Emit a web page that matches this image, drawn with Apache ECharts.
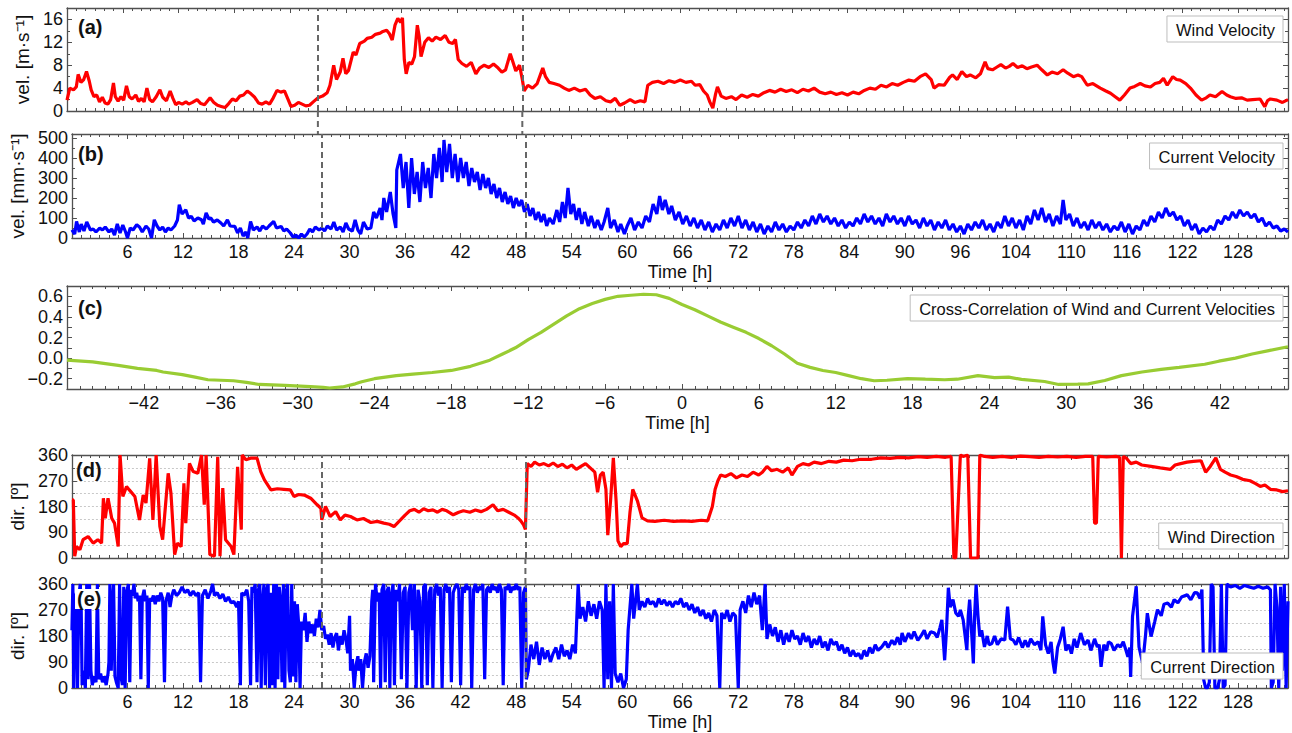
<!DOCTYPE html>
<html>
<head>
<meta charset="utf-8">
<script src="https://cdn.jsdelivr.net/npm/echarts@6/dist/echarts.min.js"></script>
<style>
html,body{margin:0;padding:0;background:#fff;}
#chart{width:1292px;height:733px;}
</style>
</head>
<body>
<div id="chart"></div>
<script>
// ---------------- DATA ----------------
// time axis tick values and their printed labels (as printed in the original figure)
const X_TICK_VALUES = [6,12,18,24,30,36,42,48,54,60,66,72,78,84,90,96,102,108,114,120,126];
const X_TICK_LABELS = ['6','12','18','24','30','36','42','48','54','60','66','72','78','84','90','96','104','110','116','122','128'];
const EVENT_TIMES = [27, 49];

// (a) wind velocity [m/s] : [time h, value]
const WIND_VEL = [[0,1.9],[0.3,4],[0.7,3.7],[1.0,4.2],[1.2,6.4],[1.5,5],[1.8,5.5],[2.1,6.9],[2.4,5.2],[2.6,3.7],[2.9,2.5],[3.2,2.8],[3.5,1.6],[3.8,2.4],[4.1,1.4],[4.4,1.2],[4.7,2],[5.0,4.9],[5.2,2.5],[5.5,1.7],[5.8,2.5],[6.1,1.9],[6.4,4.4],[6.7,2.5],[7.0,2.1],[7.4,2.8],[7.7,1.7],[8.0,2.2],[8.3,1.6],[8.6,4.0],[8.9,2.0],[9.2,1.6],[9.6,2.5],[10.0,3.7],[10.3,2.4],[10.7,1.8],[11.1,3.5],[11.4,2.2],[11.7,1.1],[12.0,1.5],[12.4,1.2],[12.8,1.6],[13.1,1.2],[13.5,1.5],[14.0,2.0],[14.4,1.3],[14.8,1.1],[15.4,2.3],[15.8,1.5],[16.2,1.0],[16.6,0.8],[17.0,0.6],[17.4,1.3],[17.8,2.1],[18.2,1.8],[18.6,2.6],[19.0,2.8],[19.4,3.5],[19.8,3.0],[20.2,2.4],[20.6,1.4],[21.0,1.2],[21.4,1.6],[21.8,1.2],[22.2,2.3],[22.6,3.6],[23.0,3.3],[23.4,3.5],[23.8,2.0],[24.1,0.8],[24.5,1.0],[24.9,1.5],[25.3,1.2],[25.7,0.9],[26.1,1.0],[26.5,1.6],[27.0,2.3],[27.5,2.6],[28.0,3.2],[28.3,4.5],[28.7,8.0],[29.0,5.5],[29.4,6.8],[29.7,9.2],[30.0,6.5],[30.3,7.1],[30.8,10.3],[31.1,9.8],[31.5,11.8],[32.0,12.2],[32.3,12.7],[32.8,12.9],[33.2,13.4],[33.7,13.6],[34.0,13.9],[34.4,14.1],[34.7,13.5],[35.0,12.4],[35.3,15.0],[35.6,16.2],[35.9,15.5],[36.1,16.3],[36.3,9],[36.5,6.5],[36.8,8.5],[37.1,8.2],[37.4,9.5],[37.7,15],[37.9,13],[38.1,9.5],[38.5,12],[38.9,12.8],[39.3,12.2],[39.7,12.9],[40.2,12.5],[40.7,13.2],[41.1,12.0],[41.5,11.8],[41.8,12.5],[42.1,9],[42.5,8.3],[43.0,7.8],[43.5,8.5],[44.0,6.5],[44.4,7.5],[44.9,8.0],[45.4,7.6],[45.9,8.2],[46.4,7.5],[46.8,6.8],[47.2,7.2],[47.7,10],[48.0,8.5],[48.3,7.0],[48.7,8.0],[49.0,5.5],[49.2,3.5],[49.6,4.5],[50.1,4.0],[50.6,4.8],[51.2,7.5],[51.5,6.0],[51.9,5.0],[52.4,4.8],[53.0,4.5],[53.5,4.0],[54.0,3.6],[54.6,4.0],[55.2,3.5],[55.8,3.8],[56.3,2.8],[56.8,2.2],[57.4,2.5],[58.0,1.8],[58.5,1.6],[59.0,2.2],[59.5,1.0],[60.0,1.4],[60.6,2.0],[61.1,1.5],[61.7,1.8],[62.2,1.6],[62.5,4.5],[63.0,5.0],[63.6,5.2],[64.2,4.8],[64.8,5.3],[65.4,5.0],[66.0,5.4],[66.6,5.0],[67.2,5.2],[67.6,4.5],[68.1,4.6],[68.5,3.5],[68.9,2.8],[69.2,1.5],[69.5,0.5],[69.8,3.0],[70.0,4.2],[70.4,2.6],[70.9,2.2],[71.5,2.5],[72.0,2.0],[72.6,2.8],[73.2,2.4],[73.8,2.9],[74.4,2.6],[75.0,3.2],[75.6,3.6],[76.2,3.3],[76.8,3.8],[77.4,3.4],[78.0,3.7],[78.6,3.2],[79.2,3.8],[79.8,3.5],[80.4,4.0],[81.0,3.3],[81.6,3.0],[82.2,3.3],[82.8,2.9],[83.4,3.2],[84.0,2.8],[84.6,3.3],[85.2,3.0],[85.8,3.6],[86.4,4.0],[87.0,3.8],[87.6,4.5],[88.2,4.2],[88.8,4.8],[89.4,4.5],[90.0,5.0],[90.6,5.4],[91.2,5.2],[91.8,6.0],[92.4,6.5],[93.0,5.5],[93.3,4.0],[93.8,4.6],[94.4,4.5],[95.0,5.9],[95.3,6.3],[95.8,5.5],[96.3,6.9],[96.8,6.0],[97.2,6.3],[97.8,5.8],[98.3,6.5],[98.8,8.6],[99.1,7.4],[99.6,7.2],[100.0,7.6],[100.5,8.1],[101.0,7.5],[101.4,7.8],[101.8,8.3],[102.3,7.6],[102.8,7.9],[103.3,7.4],[103.8,7.7],[104.4,8.0],[104.9,7.2],[105.5,6.3],[106.0,6.8],[106.6,6.5],[107.2,7.2],[107.7,6.6],[108.3,6.0],[108.8,6.3],[109.2,6.0],[109.8,4.5],[110.4,4.8],[111.2,4.0],[111.8,3.5],[112.3,3.1],[112.8,2.5],[113.3,1.9],[113.8,2.8],[114.4,4.0],[114.9,4.3],[115.5,4.8],[116.0,4.4],[116.6,4.2],[117.1,4.8],[117.6,5.0],[118.0,5.7],[118.4,4.5],[119.0,6.0],[119.4,5.5],[119.8,5.4],[120.4,4.8],[120.9,4.0],[121.5,2.8],[122.1,1.9],[122.6,2.3],[123.0,2.8],[123.6,2.5],[124.3,3.4],[124.8,2.8],[125.2,2.5],[125.8,2.2],[126.4,2.3],[127.0,1.9],[127.6,2.0],[128.4,2.1],[128.9,0.75],[129.2,1.8],[129.5,2.1],[130.2,1.9],[130.8,1.5],[131.4,2.0]];

// (b) current velocity [mm/s]
const CUR_VEL = [[0,41],[0.3,20],[0.5,83],[0.8,30],[1.0,70],[1.3,35],[1.6,80],[2.0,40],[2.3,45],[2.6,30],[3.0,50],[3.3,40],[3.6,55],[4.0,30],[4.3,45],[4.6,15],[4.9,70],[5.2,25],[5.5,65],[5.8,30],[6.0,0],[6.3,50],[6.6,40],[7.0,66],[7.3,55],[7.6,30],[8.0,60],[8.3,45],[8.6,0],[8.9,91],[9.2,60],[9.5,40],[9.8,55],[10.1,30],[10.4,50],[10.7,40],[11.1,60],[11.4,90],[11.6,166],[11.9,120],[12.3,141],[12.6,100],[12.9,108],[13.2,85],[13.6,100],[14.0,91],[14.2,70],[14.5,126],[14.8,95],[15.0,100],[15.3,80],[15.7,90],[16.1,75],[16.4,60],[16.8,91],[17.1,60],[17.6,58],[17.9,25],[18.2,50],[18.5,10],[18.8,30],[19.0,0],[19.3,83],[19.6,40],[20.0,55],[20.3,35],[20.6,60],[21.0,45],[21.3,60],[21.8,83],[22.1,50],[22.6,58],[22.9,35],[23.2,45],[23.6,25],[23.9,5],[24.2,15],[24.5,0],[24.8,20],[25.1,5],[25.4,20],[25.7,45],[26.0,30],[26.3,55],[26.7,40],[27.0,50],[27.3,35],[27.6,60],[28.0,45],[28.3,80],[28.6,40],[29.0,55],[29.3,30],[29.6,75],[29.9,45],[30.3,35],[30.6,91],[30.9,40],[31.2,20],[31.5,80],[31.9,45],[32.3,50],[32.6,130],[32.9,100],[33.3,150],[33.5,90],[33.7,200],[34.0,130],[34.4,230],[34.7,120],[35.0,50],[35.1,340],[35.5,420],[35.8,250],[36.1,380],[36.4,150],[36.7,400],[37.0,220],[37.3,330],[37.6,180],[37.9,380],[38.2,250],[38.5,350],[38.8,200],[39.1,420],[39.4,300],[39.7,450],[40.0,280],[40.2,490],[40.5,330],[40.8,470],[41.1,300],[41.4,420],[41.7,280],[42.0,400],[42.3,300],[42.6,380],[42.9,260],[43.2,350],[43.5,280],[43.8,330],[44.1,240],[44.4,320],[44.7,250],[45.0,300],[45.3,220],[45.6,270],[45.9,200],[46.2,250],[46.5,180],[46.8,230],[47.1,170],[47.4,210],[47.7,150],[48.0,200],[48.3,160],[48.6,190],[48.9,130],[49.2,170],[49.5,110],[49.8,150],[50.1,90],[50.4,130],[50.7,80],[51.0,120],[51.3,60],[51.6,100],[52.0,70],[52.4,140],[52.7,80],[53.0,180],[53.3,100],[53.6,250],[53.9,120],[54.2,170],[54.5,90],[54.8,150],[55.1,70],[55.4,130],[55.8,60],[56.1,110],[56.5,50],[56.8,90],[57.2,40],[57.5,80],[57.9,150],[58.2,50],[58.6,90],[59.0,30],[59.3,70],[59.7,20],[60.0,60],[60.4,100],[60.8,40],[61.2,80],[61.6,50],[62.0,110],[62.4,80],[62.8,170],[63.2,120],[63.5,210],[63.8,140],[64.1,190],[64.5,120],[64.8,160],[65.2,90],[65.6,130],[66.0,70],[66.4,110],[66.8,60],[67.2,100],[67.6,50],[68.0,90],[68.4,40],[68.8,80],[69.2,30],[69.6,70],[70.0,40],[70.4,90],[70.8,50],[71.2,100],[71.6,60],[72.0,110],[72.4,50],[72.8,90],[73.2,40],[73.6,80],[74.0,30],[74.4,70],[74.8,20],[75.2,60],[75.6,30],[76.0,80],[76.4,40],[76.8,70],[77.2,30],[77.6,60],[78.0,40],[78.4,80],[78.8,50],[79.2,90],[79.6,60],[80.0,110],[80.4,70],[80.8,120],[81.2,80],[81.6,110],[82.0,70],[82.4,100],[82.8,60],[83.2,90],[83.6,50],[84.0,80],[84.4,60],[84.8,100],[85.2,70],[85.6,120],[86.0,80],[86.4,110],[86.8,70],[87.2,100],[87.6,60],[88.0,120],[88.4,80],[88.8,110],[89.2,70],[89.6,100],[90.0,60],[90.4,110],[90.8,70],[91.2,90],[91.6,50],[92.0,100],[92.4,60],[92.8,90],[93.2,40],[93.6,80],[94.0,50],[94.4,90],[94.8,40],[95.2,70],[95.6,30],[96.0,60],[96.4,20],[96.8,70],[97.2,40],[97.6,80],[98.0,50],[98.4,90],[98.8,40],[99.2,70],[99.6,30],[100.0,80],[100.4,50],[100.8,110],[101.2,60],[101.6,100],[102.0,50],[102.4,90],[102.8,40],[103.2,110],[103.6,70],[104.0,140],[104.4,90],[104.8,150],[105.2,80],[105.6,120],[106.0,60],[106.4,110],[106.8,70],[107.1,190],[107.4,90],[107.8,120],[108.2,60],[108.6,100],[109.0,50],[109.4,80],[109.8,40],[110.2,90],[110.6,50],[111.0,80],[111.4,40],[111.8,70],[112.2,30],[112.6,60],[113.0,40],[113.4,80],[113.8,30],[114.2,70],[114.6,20],[115.0,60],[115.4,40],[115.8,90],[116.2,60],[116.6,110],[117.0,80],[117.4,130],[117.8,100],[118.2,150],[118.6,110],[119.0,130],[119.4,90],[119.8,110],[120.2,60],[120.6,90],[121.0,40],[121.4,70],[121.8,20],[122.2,50],[122.6,30],[123.0,60],[123.4,40],[123.8,90],[124.2,70],[124.6,110],[125.0,90],[125.4,130],[125.8,100],[126.2,140],[126.6,110],[127.0,130],[127.4,100],[127.8,120],[128.2,80],[128.6,100],[129.0,60],[129.4,80],[129.8,50],[130.2,60],[130.6,35],[131.0,45],[131.4,30]];

// (c) cross-correlation : [lag h, r]
const CROSS_CORR = [[-48,-0.02],[-46,-0.036],[-44,-0.07],[-43,-0.09],[-42.5,-0.10],[-41,-0.12],[-40.5,-0.135],[-39,-0.16],[-38,-0.185],[-37,-0.21],[-35,-0.22],[-34,-0.235],[-33,-0.256],[-31,-0.265],[-29,-0.276],[-28,-0.285],[-27.5,-0.29],[-26.5,-0.28],[-25.5,-0.25],[-25,-0.23],[-24,-0.2],[-22.3,-0.17],[-21,-0.155],[-19.5,-0.14],[-18,-0.12],[-16.5,-0.08],[-15,-0.02],[-14,0.04],[-13,0.1],[-12,0.18],[-11,0.25],[-10,0.33],[-9,0.41],[-8,0.48],[-7,0.53],[-6,0.57],[-5,0.6],[-4,0.61],[-3,0.62],[-2,0.615],[-1,0.58],[0,0.52],[1,0.47],[2,0.41],[3,0.35],[4,0.3],[5,0.25],[6,0.19],[7,0.12],[8,0.04],[9,-0.05],[10,-0.09],[11,-0.12],[12,-0.14],[13,-0.17],[14,-0.2],[15,-0.22],[16,-0.215],[17.6,-0.2],[19,-0.205],[20.5,-0.21],[21.5,-0.205],[23.1,-0.17],[24.4,-0.19],[25.5,-0.185],[26.5,-0.207],[28.3,-0.227],[29.4,-0.256],[30.9,-0.253],[31.7,-0.25],[33,-0.217],[34.3,-0.17],[35.9,-0.135],[37.4,-0.11],[38.8,-0.09],[40.8,-0.06],[41.9,-0.03],[43.2,0.0],[44.5,0.04],[45.8,0.073],[47.3,0.11]];

// (d) wind direction [deg]
const WIND_DIR = [[0,203],[0.15,203],[0.3,6],[0.5,40],[0.86,29],[1.2,64],[1.75,75],[2.3,52],[2.8,64],[3.2,52],[3.4,209],[3.6,139],[3.9,209],[4.3,139],[4.6,122],[5.0,40],[5.2,360],[5.5,215],[5.9,250],[6.2,238],[6.8,215],[7.3,133],[7.7,220],[8.0,192],[8.4,348],[8.75,133],[9.1,360],[9.5,110],[9.8,64],[10.4,296],[10.7,226],[11.1,12],[11.4,52],[11.8,40],[12.1,261],[12.3,122],[12.7,331],[13.1,302],[13.6,296],[14.0,360],[14.3,186],[14.5,360],[14.9,12],[15.4,6],[15.75,354],[16.0,6],[16.3,244],[16.6,64],[17.2,40],[17.5,12],[17.9,319],[18.3,99],[18.4,360],[18.8,343],[19.3,349],[20.0,349],[20.4,302],[20.8,273],[21.5,238],[22.2,242],[22.9,240],[23.6,238],[24.0,215],[24.5,222],[25.1,220],[25.8,209],[26.5,186],[26.9,174],[27.0,133],[27.4,180],[27.9,145],[28.5,162],[29.0,133],[29.5,150],[30.1,145],[30.8,133],[31.5,138],[32.3,124],[33.0,128],[33.7,122],[34.3,118],[34.8,110],[35.5,133],[36.0,150],[36.5,165],[37.0,170],[37.5,160],[38.0,172],[38.5,165],[39.0,168],[39.5,160],[40.0,170],[40.5,165],[41.2,151],[41.8,160],[42.3,165],[43.0,160],[43.6,168],[44.2,162],[44.8,170],[45.5,186],[46.0,165],[46.6,170],[47.2,160],[47.8,150],[48.2,140],[48.5,130],[48.8,116],[49.0,100],[49.2,330],[49.6,320],[50.0,335],[50.5,325],[51.0,330],[51.5,322],[52.0,332],[52.5,320],[53.0,328],[53.5,315],[54.0,325],[54.5,310],[55.0,320],[55.5,330],[56.0,315],[56.5,300],[56.8,230],[57.1,290],[57.4,300],[57.7,240],[57.9,80],[58.2,200],[58.5,350],[58.8,200],[59.0,60],[59.3,40],[59.6,50],[60.0,50],[60.3,160],[60.6,240],[61.1,200],[61.6,140],[62.2,130],[63.0,128],[64.0,132],[65.0,128],[66.0,130],[67.0,128],[68.0,132],[68.7,130],[69.2,180],[69.5,240],[69.8,270],[70.1,290],[70.6,285],[71.2,295],[71.8,280],[72.4,290],[73.0,285],[73.6,300],[74.2,290],[74.6,300],[75.1,320],[75.6,305],[76.2,310],[76.8,300],[77.4,315],[77.8,290],[78.4,320],[79.0,330],[79.6,325],[80.2,335],[81.0,330],[81.8,338],[82.6,335],[83.4,342],[84.3,340],[85.2,345],[86.4,345],[87.4,350],[88.4,348],[89.4,352],[90.4,350],[91.4,354],[92.4,352],[93.4,355],[94.4,352],[95.0,355],[95.3,0],[95.5,0],[96.0,360],[96.3,355],[96.8,360],[97.1,0],[97.9,0],[98.1,360],[98.6,355],[99.5,352],[100.5,355],[101.5,352],[102.5,356],[103.5,354],[104.5,352],[105.5,355],[106.5,353],[107.5,355],[108.5,352],[109.5,355],[110.3,355],[110.5,122],[110.7,122],[110.9,355],[111.8,353],[112.8,355],[113.2,352],[113.4,0],[113.6,355],[113.9,350],[114.4,330],[115.0,335],[115.6,325],[116.6,320],[117.6,315],[118.7,310],[119.2,325],[119.8,330],[120.5,335],[121.2,338],[122.0,340],[122.5,300],[123.0,320],[123.6,350],[124.1,310],[124.6,300],[125.2,290],[125.8,285],[126.5,275],[127.3,270],[127.9,260],[128.4,250],[128.9,255],[129.5,240],[130.2,238],[130.8,232],[131.4,235]];

// (e) current direction [deg]
const CUR_DIR = [[0,200],[0.1,360],[0.2,0],[0.35,310],[0.5,330],[0.6,0],[0.75,320],[0.9,360],[1.0,280],[1.1,10],[1.3,60],[1.45,0],[1.6,360],[1.75,30],[1.9,360],[2.05,60],[2.2,10],[2.4,40],[2.6,20],[2.75,360],[2.9,30],[3.1,50],[3.3,20],[3.5,40],[3.7,10],[3.9,50],[4.0,90],[4.1,360],[4.25,60],[4.4,300],[4.5,360],[4.65,40],[4.8,20],[5.0,0],[5.15,360],[5.3,40],[5.45,10],[5.6,350],[5.75,0],[5.9,330],[6.1,360],[6.25,20],[6.4,340],[6.55,320],[6.7,360],[6.85,310],[7.0,330],[7.15,300],[7.3,320],[7.45,30],[7.6,310],[7.8,340],[7.95,300],[8.1,320],[8.25,0],[8.4,310],[8.6,300],[8.8,320],[9.0,290],[9.2,320],[9.4,300],[9.6,330],[9.8,310],[10.0,20],[10.15,300],[10.4,330],[10.6,280],[10.8,320],[11.0,340],[11.3,320],[11.6,330],[11.9,350],[12.2,330],[12.5,340],[12.8,320],[13.1,335],[13.4,320],[13.7,330],[13.9,20],[14.1,320],[14.4,340],[14.7,310],[15.0,335],[15.2,360],[15.4,320],[15.7,330],[16.0,310],[16.3,325],[16.6,300],[16.9,315],[17.2,295],[17.5,300],[17.8,280],[18.0,300],[18.2,10],[18.35,330],[18.6,320],[18.9,340],[19.1,300],[19.3,10],[19.45,350],[19.6,330],[19.8,360],[20.0,20],[20.15,340],[20.3,360],[20.45,0],[20.6,300],[20.75,360],[20.9,10],[21.05,340],[21.2,360],[21.35,0],[21.5,330],[21.65,10],[21.8,360],[21.95,0],[22.1,360],[22.25,30],[22.4,350],[22.55,300],[22.7,20],[22.85,360],[23.0,0],[23.15,330],[23.3,360],[23.45,60],[23.6,20],[23.75,360],[23.9,40],[24.05,300],[24.2,20],[24.35,290],[24.5,220],[24.65,0],[24.8,230],[25.0,200],[25.2,260],[25.4,160],[25.6,230],[25.8,190],[26.0,220],[26.2,180],[26.4,240],[26.6,210],[26.8,270],[27.0,200],[27.2,215],[27.4,170],[27.6,185],[27.8,150],[28.0,190],[28.2,140],[28.4,175],[28.6,190],[28.8,130],[29.0,180],[29.2,150],[29.4,200],[29.6,170],[29.8,120],[30.0,250],[30.1,60],[30.3,100],[30.5,0],[30.7,80],[30.9,110],[31.0,60],[31.2,100],[31.4,0],[31.6,90],[31.8,120],[32.0,70],[32.2,110],[32.4,300],[32.5,340],[32.6,20],[32.8,360],[33.0,300],[33.2,330],[33.35,0],[33.5,340],[33.7,360],[33.85,20],[34.0,330],[34.2,350],[34.35,0],[34.5,320],[34.7,360],[34.85,10],[35.0,340],[35.2,300],[35.4,360],[35.6,30],[35.8,330],[36.0,350],[36.2,0],[36.4,330],[36.6,360],[36.8,200],[37.0,360],[37.2,0],[37.4,340],[37.6,300],[37.8,0],[38.0,350],[38.2,360],[38.4,10],[38.6,330],[38.8,350],[39.0,0],[39.2,340],[39.4,360],[39.6,320],[39.8,350],[40.0,0],[40.2,340],[40.4,360],[40.6,330],[40.8,350],[41.0,20],[41.2,330],[41.4,350],[41.6,360],[41.8,340],[42.0,10],[42.2,350],[42.4,330],[42.6,360],[42.8,340],[43.0,350],[43.2,0],[43.4,340],[43.6,360],[43.8,330],[44.0,350],[44.2,340],[44.4,360],[44.6,30],[44.8,340],[45.0,350],[45.2,330],[45.4,360],[45.6,340],[45.8,350],[46.0,330],[46.2,360],[46.4,340],[46.6,10],[46.8,350],[47.0,340],[47.2,360],[47.4,330],[47.6,350],[47.8,340],[48.0,360],[48.2,340],[48.4,350],[48.6,0],[48.8,330],[49.0,350],[49.1,30],[49.3,60],[49.6,150],[49.9,100],[50.2,160],[50.5,80],[50.8,140],[51.1,100],[51.4,130],[51.7,90],[52.0,120],[52.3,140],[52.6,100],[52.9,150],[53.2,110],[53.5,130],[53.8,100],[54.1,150],[54.4,120],[54.7,360],[54.9,240],[55.2,280],[55.5,230],[55.8,300],[56.1,250],[56.4,290],[56.7,240],[57.0,300],[57.3,270],[57.5,0],[57.7,360],[57.9,30],[58.1,300],[58.3,0],[58.5,360],[58.7,50],[59.0,20],[59.3,50],[59.6,0],[59.9,30],[60.1,200],[60.3,280],[60.5,360],[60.7,240],[60.9,300],[61.1,360],[61.3,270],[61.6,300],[61.9,280],[62.2,310],[62.5,290],[62.8,300],[63.1,280],[63.4,310],[63.7,290],[64.0,305],[64.3,285],[64.6,300],[64.9,280],[65.2,300],[65.5,290],[65.8,310],[66.1,280],[66.4,295],[66.7,270],[67.0,290],[67.3,260],[67.6,280],[67.9,250],[68.2,270],[68.5,240],[68.8,260],[69.1,230],[69.4,270],[69.7,250],[70.0,0],[70.2,260],[70.5,240],[70.8,270],[71.1,230],[71.4,260],[71.7,250],[72.0,0],[72.2,270],[72.5,300],[72.8,260],[73.1,320],[73.4,280],[73.7,330],[74.0,290],[74.3,320],[74.6,200],[74.9,360],[75.1,170],[75.4,220],[75.7,180],[76.0,210],[76.3,160],[76.6,200],[76.9,150],[77.2,190],[77.5,160],[77.8,200],[78.1,170],[78.4,180],[78.7,150],[79.0,190],[79.3,160],[79.6,180],[79.9,140],[80.2,170],[80.5,150],[80.8,180],[81.1,140],[81.4,160],[81.7,130],[82.0,170],[82.3,150],[82.6,160],[82.9,130],[83.2,150],[83.5,120],[83.8,140],[84.1,110],[84.4,130],[84.7,110],[85.0,120],[85.3,100],[85.6,130],[85.9,110],[86.2,140],[86.5,120],[86.8,150],[87.1,130],[87.5,142],[87.9,160],[88.2,140],[88.6,165],[88.9,150],[89.2,175],[89.5,150],[89.7,190],[90.0,160],[90.4,190],[90.7,170],[91.0,195],[91.4,165],[91.8,183],[92.1,200],[92.4,170],[92.8,195],[93.2,190],[93.5,175],[93.8,210],[94.0,236],[94.3,96],[94.5,200],[94.7,347],[94.9,280],[95.2,306],[95.5,260],[95.8,248],[96.0,270],[96.3,236],[96.7,131],[96.85,250],[97.0,306],[97.2,200],[97.4,85],[97.55,260],[97.7,358],[97.9,250],[98.1,178],[98.3,200],[98.6,142],[98.9,180],[99.1,150],[99.4,154],[99.7,180],[100.0,150],[100.4,170],[100.8,166],[101.1,282],[101.4,170],[101.7,166],[102.0,150],[102.3,175],[102.7,140],[103.0,165],[103.3,142],[103.6,170],[104.0,150],[104.4,160],[104.7,131],[104.9,248],[105.2,150],[105.5,119],[105.8,160],[106.0,90],[106.2,50],[106.5,140],[106.8,170],[107.1,212],[107.4,130],[107.7,150],[108.0,119],[108.3,170],[108.6,140],[109.0,190],[109.4,150],[109.8,166],[110.1,130],[110.5,170],[110.8,142],[111.0,150],[111.2,73],[111.5,150],[111.8,130],[112.0,160],[112.3,154],[112.6,130],[113.0,150],[113.3,142],[113.6,160],[113.9,130],[114.1,108],[114.3,140],[114.4,38],[114.6,248],[115.0,352],[115.3,142],[115.7,85],[116.0,180],[116.2,259],[116.6,178],[117.0,230],[117.3,271],[117.7,250],[118.0,290],[118.4,294],[118.8,280],[119.1,306],[119.5,295],[119.9,315],[120.5,323],[120.9,305],[121.3,330],[121.6,329],[121.9,310],[122.1,341],[122.3,27],[122.5,0],[122.7,0],[122.9,20],[123.1,360],[123.3,350],[123.5,0],[123.8,0],[124.0,30],[124.2,360],[124.4,0],[124.6,10],[124.8,360],[125.2,350],[125.7,355],[126.2,345],[126.7,355],[127.2,350],[127.7,345],[128.2,352],[128.7,345],[129.2,350],[129.5,340],[129.6,0],[129.8,20],[130.0,360],[130.2,280],[130.4,0],[130.6,350],[130.8,60],[131.0,360],[131.2,0],[131.4,300]];

// ---------------- CHART ----------------
const FONT = 'Liberation Sans, Arial, sans-serif';
const AX = '#505050';
const T_MIN = 0, T_MAX = 131.4;
const LAG_MIN = -48, LAG_MAX = 47.3;

const grids = [
  {left:67, right:4, top:8,   height:103},
  {left:67, right:4, top:134, height:104},
  {left:67, right:4, top:286, height:103},
  {left:67, right:4, top:455, height:103},
  {left:67, right:4, top:584, height:104}
];

function timeLabel(v){
  const i = X_TICK_VALUES.indexOf(Math.round(v));
  return i >= 0 ? X_TICK_LABELS[i] : '';
}
function lagLabel(v){
  if (Math.abs(v - LAG_MIN) < 1e-6) return '';
  return String(Math.round(v)).replace('-', '\u2212');
}

function xAx(g, pos, isLag, showLabel, name){
  return {
    type:'value', gridIndex:g, position:pos,
    min: isLag ? LAG_MIN : T_MIN, max: isLag ? LAG_MAX : T_MAX, interval:6,
    axisLine:{show:true, onZero:false, lineStyle:{color:AX, width:1.3}},
    axisTick:{show:true, inside:true, length:5, lineStyle:{color:AX, width:1}},
    minorTick:{show:true, splitNumber:6, length:3, lineStyle:{color:AX, width:1}},
    splitLine:{show:false},
    axisLabel:{show:showLabel, margin:5, color:'#111', fontSize:18, fontFamily:FONT,
      showMinLabel:false, showMaxLabel:false,
      formatter: isLag ? lagLabel : timeLabel},
    name: name || '', nameLocation:'middle', nameGap:25,
    nameTextStyle:{color:'#111', fontSize:18, fontFamily:FONT}
  };
}
function yAx(g, pos, min, max, interval, minorSplit, showLabel, opts){
  const o = {
    type:'value', gridIndex:g, position:pos, min:min, max:max, interval:interval,
    axisLine:{show:true, onZero:false, lineStyle:{color:AX, width:1.3}},
    axisTick:{show:true, inside:true, length:5, lineStyle:{color:AX, width:1}},
    minorTick:{show:minorSplit>0, splitNumber:minorSplit||2, length:3, lineStyle:{color:AX, width:1}},
    splitLine:{show:false},
    axisLabel:{show:showLabel, margin:4, color:'#111', fontSize:18, fontFamily:FONT},
    nameLocation:'middle', nameRotate:90,
    nameTextStyle:{color:'#111', fontSize:19, fontFamily:FONT}
  };
  return Object.assign(o, opts || {});
}
const dirGrid = {
  splitLine:{show:true, lineStyle:{color:'#c8c8c8', type:[2,2], width:1}},
  minorSplitLine:{show:true, lineStyle:{color:'#c8c8c8', type:[2,2], width:1}}
};

const xAxis = [
  xAx(0,'bottom',false,false), xAx(0,'top',false,false),
  xAx(1,'bottom',false,true,'Time [h]'), xAx(1,'top',false,false),
  xAx(2,'bottom',true,true,'Time [h]'), xAx(2,'top',true,false),
  xAx(3,'bottom',false,false), xAx(3,'top',false,false),
  xAx(4,'bottom',false,true,'Time [h]'), xAx(4,'top',false,false)
];
const yAxis = [
  yAx(0,'left',0,18,4,2,true,{name:'vel. [m\u00b7s\u207b\u00b9]', nameGap:24}), yAx(0,'right',0,18,4,2,false),
  yAx(1,'left',0,520,100,2,true,{name:'vel. [mm\u00b7s\u207b\u00b9]', nameGap:41}), yAx(1,'right',0,520,100,2,false),
  yAx(2,'left',-0.3,0.7,0.1,0,true), yAx(2,'right',-0.3,0.7,0.1,0,false),
  yAx(3,'left',0,360,90,2,true,Object.assign({name:'dir. [\u00ba]', nameGap:40}, dirGrid)), yAx(3,'right',0,360,90,2,false),
  yAx(4,'left',0,360,90,2,true,Object.assign({name:'dir. [\u00ba]', nameGap:40}, dirGrid)), yAx(4,'right',0,360,90,2,false)
];
yAxis[4].axisLabel.formatter = function(v){
  const k = Math.round(v*10);
  if (k % 2 !== 0) return '';
  return (k/10).toFixed(1).replace('-', '\u2212');
};

const eventLines = {
  silent:true, symbol:['none','none'], label:{show:false},
  lineStyle:{color:'#666', type:[6,4], width:2},
  data: EVENT_TIMES.map(t => ({xAxis:t}))
};

function lineSeries(name, data, g, color, mark){
  const s = {
    name:name, type:'line', data:data, xAxisIndex:2*g, yAxisIndex:2*g,
    showSymbol:false, symbol:'none', animation:false, clip:true,
    lineStyle:{color:color, width:3.2}, itemStyle:{color:color}
  };
  if (mark) s.markLine = eventLines;
  return s;
}

function legendBox(name, top){
  return {
    data:[{name:name, icon:'none'}], right:9, top:top, orient:'horizontal',
    itemWidth:0, itemHeight:0, selectedMode:false,
    backgroundColor:'#fff', borderColor:'#bdbdbd', borderWidth:1, borderRadius:0,
    padding:[5,8,4,4],
    textStyle:{color:'#111', fontSize:16.5, fontFamily:FONT}
  };
}

function panelLabel(txt, left, top, bg){
  return {
    text:txt, left:left, top:top, padding: bg ? [0,2,0,2] : 0,
    backgroundColor: bg ? '#fff' : 'transparent',
    textStyle:{fontSize:20, fontWeight:'bold', color:'#111', fontFamily:FONT}
  };
}

const chart = echarts.init(document.getElementById('chart'), null, {renderer:'svg'});
chart.setOption({
  animation:false,
  backgroundColor:'#fff',
  grid: grids,
  xAxis: xAxis,
  yAxis: yAxis,
  title: [
    panelLabel('(a)', 78, 17), panelLabel('(b)', 78, 144), panelLabel('(c)', 78, 298),
    panelLabel('(d)', 76, 460), panelLabel('(e)', 75, 589, true)
  ],
  legend: [
    legendBox('Wind Velocity', 16),
    legendBox('Current Velocity', 143),
    legendBox('Cross-Correlation of Wind and Current Velocities', 295),
    legendBox('Wind Direction', 523),
    legendBox('Current Direction', 653)
  ],
  series: [
    lineSeries('Wind Velocity', WIND_VEL, 0, '#ff0000', true),
    lineSeries('Current Velocity', CUR_VEL, 1, '#0000ff', true),
    lineSeries('Cross-Correlation of Wind and Current Velocities', CROSS_CORR, 2, '#99cc33', false),
    lineSeries('Wind Direction', WIND_DIR, 3, '#ff0000', true),
    lineSeries('Current Direction', CUR_DIR, 4, '#0000ff', true)
  ]
});

// dashed connectors across the gaps between linked panels (a-b and d-e)
function gapLines(){
  const out = [];
  const pairs = [[0,1],[3,4]];
  pairs.forEach(([g1,g2]) => {
    const yTop = chart.convertToPixel({yAxisIndex:2*g1}, yAxis[2*g1].min);
    const yBot = chart.convertToPixel({yAxisIndex:2*g2}, yAxis[2*g2].max);
    EVENT_TIMES.forEach(t => {
      const x = chart.convertToPixel({xAxisIndex:2*g1}, t);
      out.push({type:'line', silent:true, z:1,
        shape:{x1:x, y1:yTop, x2:x, y2:yBot},
        style:{stroke:'#666', lineWidth:2, lineDash:[6,4]}});
    });
  });
  return out;
}
chart.setOption({graphic: gapLines()});
</script>
</body>
</html>
